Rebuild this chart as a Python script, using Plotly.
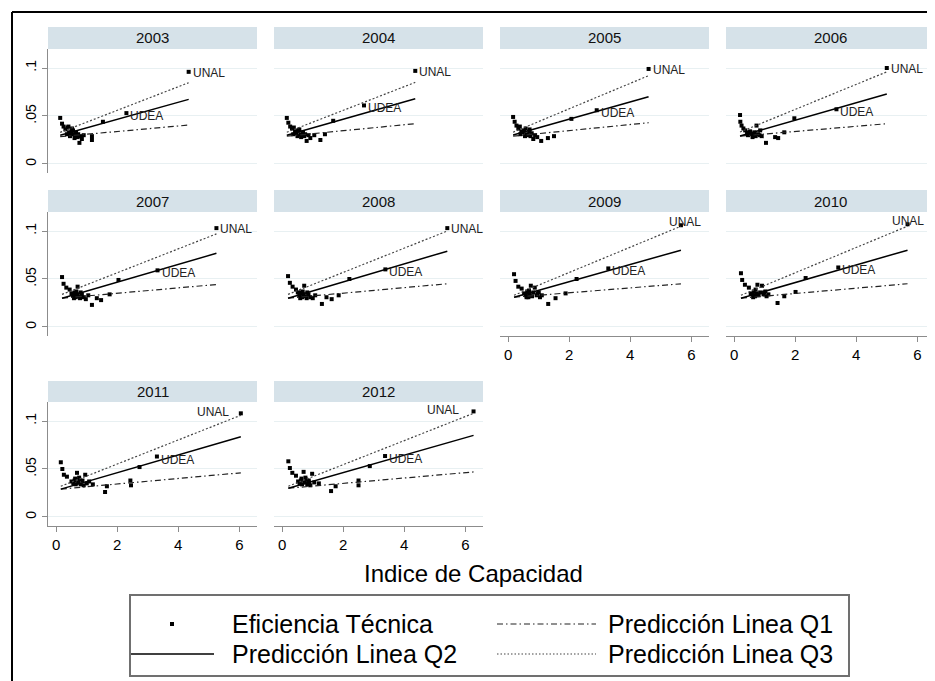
import plotly.graph_objects as go

# ---------------- data ----------------
years = ["2003", "2004", "2005", "2006", "2007", "2008", "2009", "2010", "2011", "2012"]

x_2003 = [0.13, 0.19, 0.24, 0.30, 0.37, 0.42, 0.46, 0.50, 0.55, 0.58, 0.62, 0.65, 0.70, 0.72, 0.76, 0.80, 0.84, 0.90, 1.17, 1.17, 1.53, 0.40, 0.52, 0.45, 0.60, 0.35]
y_2003 = [0.048, 0.042, 0.039, 0.036, 0.038, 0.033, 0.032, 0.034, 0.035, 0.031, 0.030, 0.033, 0.028, 0.031, 0.022, 0.029, 0.026, 0.030, 0.029, 0.025, 0.044, 0.039, 0.037, 0.029, 0.027, 0.031]
x_2004 = [0.15, 0.20, 0.26, 0.32, 0.38, 0.42, 0.47, 0.52, 0.56, 0.60, 0.64, 0.68, 0.72, 0.75, 0.80, 0.86, 0.92, 1.05, 1.25, 1.40, 1.67, 0.36, 0.50, 0.62]
y_2004 = [0.048, 0.043, 0.039, 0.037, 0.038, 0.034, 0.032, 0.035, 0.036, 0.031, 0.030, 0.033, 0.029, 0.031, 0.024, 0.030, 0.027, 0.030, 0.025, 0.031, 0.045, 0.031, 0.029, 0.028]
x_2005 = [0.16, 0.21, 0.27, 0.33, 0.38, 0.43, 0.48, 0.52, 0.57, 0.61, 0.65, 0.69, 0.73, 0.77, 0.82, 0.88, 0.95, 1.08, 1.30, 1.50, 2.07, 0.40, 0.55, 0.70]
y_2005 = [0.049, 0.044, 0.040, 0.037, 0.039, 0.034, 0.033, 0.035, 0.037, 0.031, 0.030, 0.034, 0.029, 0.032, 0.026, 0.030, 0.028, 0.024, 0.027, 0.029, 0.047, 0.031, 0.029, 0.036]
x_2006 = [0.19, 0.20, 0.24, 0.30, 0.36, 0.42, 0.47, 0.52, 0.57, 0.62, 0.66, 0.70, 0.73, 0.78, 0.83, 0.90, 1.04, 1.34, 1.44, 1.64, 1.97, 0.45, 0.60, 0.85]
y_2006 = [0.051, 0.044, 0.040, 0.037, 0.035, 0.033, 0.032, 0.034, 0.031, 0.030, 0.033, 0.029, 0.040, 0.031, 0.030, 0.029, 0.022, 0.028, 0.027, 0.033, 0.0476, 0.030, 0.028, 0.035]
x_2007 = [0.19, 0.24, 0.33, 0.44, 0.50, 0.55, 0.60, 0.64, 0.68, 0.70, 0.74, 0.78, 0.84, 0.90, 0.97, 1.05, 1.17, 1.33, 1.47, 1.75, 2.04, 0.58, 0.66, 0.80]
y_2007 = [0.052, 0.045, 0.041, 0.039, 0.035, 0.033, 0.036, 0.031, 0.034, 0.042, 0.032, 0.030, 0.034, 0.031, 0.029, 0.033, 0.023, 0.030, 0.028, 0.034, 0.049, 0.030, 0.037, 0.036]
x_2008 = [0.19, 0.25, 0.34, 0.45, 0.51, 0.56, 0.61, 0.65, 0.69, 0.72, 0.76, 0.80, 0.86, 0.92, 1.00, 1.08, 1.30, 1.45, 1.62, 1.85, 2.20, 0.59, 0.67, 0.82]
y_2008 = [0.053, 0.046, 0.042, 0.039, 0.036, 0.033, 0.036, 0.031, 0.034, 0.043, 0.032, 0.030, 0.034, 0.031, 0.030, 0.033, 0.024, 0.031, 0.029, 0.033, 0.050, 0.030, 0.037, 0.036]
x_2009 = [0.19, 0.24, 0.33, 0.44, 0.52, 0.58, 0.62, 0.66, 0.70, 0.74, 0.78, 0.82, 0.87, 0.93, 1.00, 1.04, 1.10, 1.31, 1.55, 1.88, 2.24, 0.60, 0.68, 0.96]
y_2009 = [0.055, 0.048, 0.042, 0.040, 0.035, 0.033, 0.037, 0.031, 0.034, 0.043, 0.032, 0.036, 0.041, 0.033, 0.036, 0.031, 0.033, 0.024, 0.030, 0.035, 0.050, 0.031, 0.038, 0.035]
x_2010 = [0.22, 0.26, 0.35, 0.48, 0.54, 0.60, 0.64, 0.68, 0.72, 0.76, 0.80, 0.85, 0.91, 0.96, 1.02, 1.06, 1.12, 1.42, 1.64, 2.01, 2.34, 0.62, 0.70, 0.98]
y_2010 = [0.056, 0.049, 0.044, 0.041, 0.035, 0.034, 0.037, 0.032, 0.035, 0.044, 0.033, 0.036, 0.043, 0.034, 0.037, 0.032, 0.034, 0.025, 0.032, 0.0365, 0.051, 0.031, 0.039, 0.036]
x_2011 = [0.15, 0.20, 0.25, 0.35, 0.50, 0.56, 0.60, 0.64, 0.68, 0.72, 0.76, 0.80, 0.86, 0.90, 0.95, 1.00, 1.08, 1.20, 1.60, 1.66, 2.43, 2.45, 2.73, 0.62, 0.75]
y_2011 = [0.057, 0.050, 0.044, 0.042, 0.037, 0.035, 0.038, 0.034, 0.046, 0.036, 0.039, 0.034, 0.038, 0.033, 0.044, 0.035, 0.037, 0.034, 0.026, 0.032, 0.038, 0.033, 0.052, 0.040, 0.041]
x_2012 = [0.20, 0.25, 0.33, 0.45, 0.52, 0.57, 0.61, 0.65, 0.70, 0.74, 0.78, 0.82, 0.87, 0.92, 0.98, 1.05, 1.20, 1.60, 1.75, 2.50, 2.50, 2.87, 0.63, 0.76, 0.88]
y_2012 = [0.058, 0.051, 0.046, 0.043, 0.037, 0.035, 0.038, 0.034, 0.047, 0.036, 0.039, 0.034, 0.038, 0.033, 0.045, 0.036, 0.035, 0.027, 0.032, 0.038, 0.033, 0.053, 0.040, 0.041, 0.036]

unal_x = [4.34, 4.36, 4.60, 5.00, 5.25, 5.41, 5.66, 5.68, 6.05, 6.27]
unal_y = [0.096, 0.097, 0.099, 0.100, 0.103, 0.103, 0.106, 0.107, 0.108, 0.110]
udea_x = [2.30, 2.68, 2.90, 3.35, 3.32, 3.38, 3.28, 3.41, 3.30, 3.37]
udea_y = [0.053, 0.061, 0.056, 0.057, 0.059, 0.060, 0.061, 0.062, 0.063, 0.0635]

# quantile regression coefficients (intercept, slope) per year
q1_b0 = [0.0281, 0.0285, 0.0285, 0.0285, 0.0295, 0.0295, 0.0305, 0.0294, 0.0286, 0.0294]
q1_b1 = [0.00287, 0.00309, 0.00315, 0.00269, 0.00281, 0.00287, 0.00256, 0.00275, 0.00288, 0.00280]
q2_b0 = [0.0288, 0.0286, 0.0287, 0.0274, 0.0282, 0.0282, 0.0293, 0.0280, 0.0276, 0.0282]
q2_b1 = [0.00888, 0.00903, 0.00899, 0.00911, 0.00925, 0.00939, 0.00896, 0.00916, 0.00927, 0.00906]
q3_b0 = [0.0313, 0.0312, 0.0310, 0.0308, 0.0316, 0.0316, 0.0305, 0.0301, 0.0301, 0.0295]
q3_b1 = [0.0123, 0.01235, 0.01326, 0.01304, 0.01245, 0.01264, 0.01316, 0.01319, 0.01254, 0.01252]

x_ticks = [0, 2, 4, 6]
y_ticks = [0, 0.05, 0.1]
y_ticktext = ["0", ".05", ".1"]

x_title = "Indice de Capacidad"
legend_labels = ["Eficiencia Técnica", "Predicción Linea Q2", "Predicción Linea Q1", "Predicción Linea Q3"]

# ---------------- figure ----------------
OFF = 8                      # page body margin
W, H = 935 - OFF, 681 - OFF  # figure size so it fits the window exactly
FONT = "Liberation Sans, Arial, sans-serif"


def px(v):
    return (v - OFF) / W


def py(v):
    return 1 - (v - OFF) / H


xs_all = [x_2003, x_2004, x_2005, x_2006, x_2007, x_2008, x_2009, x_2010, x_2011, x_2012]
ys_all = [y_2003, y_2004, y_2005, y_2006, y_2007, y_2008, y_2009, y_2010, y_2011, y_2012]

col_left = [48, 274, 500, 726]
col_w = 209
row_strip_top = [27, 190, 381]
row_plot_top = [49, 212, 402]
row_plot_bot = [173, 336, 526]
bottom_panels = {6, 7, 8, 9}

# UNAL label placement per panel (anchor, xshift, yshift)
unal_pos = [("left", 2, -1)] * 6 + [("center", 4, 3), ("center", 0, 3), ("right", -10, 1), ("right", -13, 1)]

q_styles = [
    (q1_b0, q1_b1, dict(color="#222222", width=1.2, dash="6px,3px,1.5px,3px")),
    (q2_b0, q2_b1, dict(color="black", width=1.5)),
    (q3_b0, q3_b1, dict(color="#444444", width=1.2, dash="2px,2px")),
]

fig = go.Figure()
layout = dict(
    width=W, height=H, margin=dict(l=0, r=0, t=0, b=0),
    paper_bgcolor="white", plot_bgcolor="white", showlegend=False,
    font=dict(family=FONT, color="black"),
)
shapes = []
annotations = []

for i, yr in enumerate(years):
    r, c = divmod(i, 4)
    n = i + 1
    xa = "x" if n == 1 else f"x{n}"
    ya = "y" if n == 1 else f"y{n}"
    xs = xs_all[i] + [udea_x[i], unal_x[i]]
    ys = ys_all[i] + [udea_y[i], unal_y[i]]

    fig.add_trace(go.Scatter(x=xs, y=ys, mode="markers", xaxis=xa, yaxis=ya,
                             marker=dict(symbol="square", size=4, color="black"),
                             cliponaxis=False, hoverinfo="skip"))
    xmin, xmax = min(xs), max(xs)
    for b0, b1, ls in q_styles:
        fig.add_trace(go.Scatter(x=[xmin, xmax], y=[b0[i] + b1[i] * xmin, b0[i] + b1[i] * xmax],
                                 mode="lines", line=ls, xaxis=xa, yaxis=ya, hoverinfo="skip"))

    L = col_left[c]
    R = min(L + col_w, 935)
    bottom = i in bottom_panels
    left = c == 0
    layout["xaxis" if n == 1 else f"xaxis{n}"] = dict(
        domain=[px(L), min(1.0, px(R))], range=[-0.27, 6.58], anchor=ya,
        tickmode="array", tickvals=x_ticks, showticklabels=bottom,
        ticks="outside" if bottom else "", ticklen=5, tickcolor="#8c8c8c", tickwidth=1,
        showline=bottom, linecolor="#8c8c8c", linewidth=1.2,
        showgrid=False, zeroline=False, fixedrange=True,
        tickfont=dict(size=15, color="black", family=FONT),
    )
    layout["yaxis" if n == 1 else f"yaxis{n}"] = dict(
        domain=[py(row_plot_bot[r]), py(row_plot_top[r])], range=[-0.0094, 0.1198], anchor=xa,
        tickmode="array", tickvals=y_ticks, ticktext=y_ticktext, showticklabels=left,
        tickangle=-90, ticks="outside" if left else "", ticklen=5, tickcolor="#8c8c8c",
        showline=left, linecolor="#8c8c8c", linewidth=1.2,
        showgrid=True, gridcolor="#e8f0f2", gridwidth=1, zeroline=False, fixedrange=True,
        tickfont=dict(size=14, color="black", family=FONT),
    )

    # strip
    shapes.append(dict(type="rect", xref="paper", yref="paper",
                       x0=px(L), x1=min(1.0, px(R)),
                       y0=py(row_plot_top[r]), y1=py(row_strip_top[r]),
                       fillcolor="#d6e2e9", line=dict(width=0), layer="below"))
    annotations.append(dict(xref="paper", yref="paper",
                            x=px(L + col_w / 2), y=py((row_strip_top[r] + row_plot_top[r]) / 2),
                            text=yr, showarrow=False, xanchor="center", yanchor="middle",
                            font=dict(size=15, color="#111111", family=FONT)))

    # point labels
    annotations.append(dict(xref=xa, yref=ya, x=udea_x[i], y=udea_y[i], text="UDEA",
                            showarrow=False, xanchor="left", yanchor="middle", xshift=2, yshift=-3,
                            font=dict(size=12, color="#222222", family=FONT)))
    anc, xsft, ysft = unal_pos[i]
    annotations.append(dict(xref=xa, yref=ya, x=unal_x[i], y=unal_y[i], text="UNAL",
                            showarrow=False, yanchor="middle", xanchor=anc, xshift=xsft, yshift=ysft,
                            font=dict(size=12, color="#222222", family=FONT)))

# x title
annotations.append(dict(xref="paper", yref="paper", x=px(474), y=py(573), text=x_title,
                        showarrow=False, xanchor="center", yanchor="middle",
                        font=dict(size=24, color="black", family=FONT)))

# legend box
lg_l, lg_r, lg_t, lg_b = 130, 849, 595, 676
row1, row2 = 624, 654
shapes.append(dict(type="rect", xref="paper", yref="paper", x0=px(lg_l), x1=px(lg_r),
                   y0=py(lg_b), y1=py(lg_t), line=dict(color="#707070", width=2),
                   fillcolor="rgba(0,0,0,0)"))
shapes.append(dict(type="rect", xref="paper", yref="paper", x0=px(170), x1=px(174),
                   y0=py(row1 + 2), y1=py(row1 - 2), fillcolor="black", line=dict(width=0)))
shapes.append(dict(type="line", xref="paper", yref="paper", x0=px(131), x1=px(214),
                   y0=py(row2), y1=py(row2), line=dict(color="black", width=1.5)))
shapes.append(dict(type="line", xref="paper", yref="paper", x0=px(497), x1=px(596),
                   y0=py(row1), y1=py(row1), line=dict(color="#222222", width=1.2, dash="6px,3px,1.5px,3px")))
shapes.append(dict(type="line", xref="paper", yref="paper", x0=px(497), x1=px(596),
                   y0=py(row2), y1=py(row2), line=dict(color="#444444", width=1.2, dash="1.5px,2px")))
for (lx, ly), txt in zip([(230, row1), (230, row2), (606, row1), (606, row2)], legend_labels):
    annotations.append(dict(xref="paper", yref="paper", x=px(lx), y=py(ly), text=txt,
                            showarrow=False, xanchor="left", yanchor="middle",
                            font=dict(size=25, color="black", family=FONT)))

# outer frame (top and left edges)
shapes.append(dict(type="line", xref="paper", yref="paper", x0=px(12), x1=1.0,
                   y0=py(12), y1=py(12), line=dict(color="black", width=2)))
shapes.append(dict(type="line", xref="paper", yref="paper", x0=px(12), x1=px(12),
                   y0=py(12), y1=0.0, line=dict(color="black", width=2)))

layout["shapes"] = shapes
layout["annotations"] = annotations
fig.update_layout(**layout)
fig.write_html("out.html")
